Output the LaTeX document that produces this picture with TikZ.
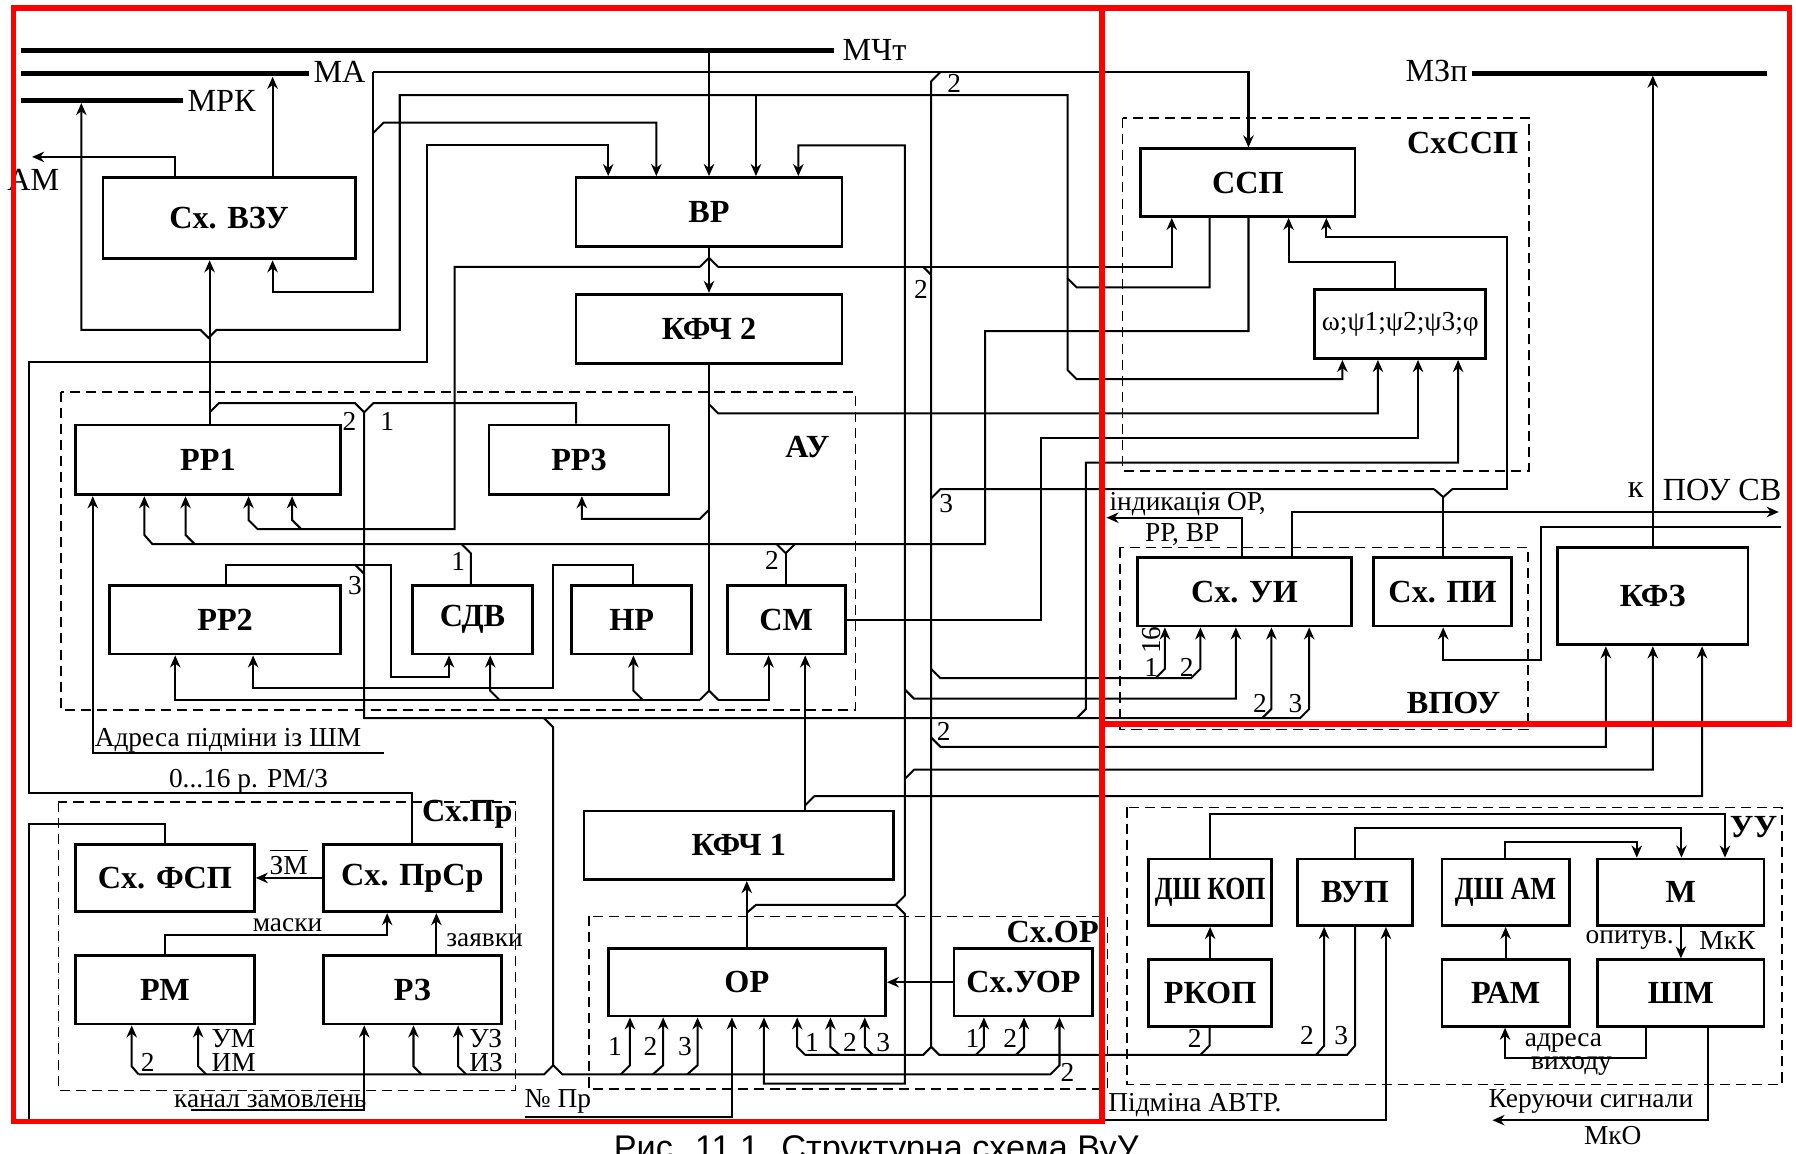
\documentclass[tikz,border=0pt]{standalone}
\usepackage{fontspec}
\setmainfont{Liberation Serif}
\newfontfamily\capfont{Liberation Sans}
\usetikzlibrary{arrows.meta}
\newcommand{\blkfont}{\fontsize{8}{9}\selectfont\bfseries}
\newcommand{\labfont}{\fontsize{6.8}{7.5}\selectfont}
\newcommand{\busfont}{\fontsize{8}{9}\selectfont}

\begin{document}
\begin{tikzpicture}[
        x=0.01cm, y=-0.01cm,
        blk/.style={draw, line width=0.7pt, font=\blkfont, inner sep=0pt},
        grp/.style={draw, line width=0.4pt, dash pattern=on 2.5pt off 1.5pt},
        grplab/.style={font=\blkfont, inner sep=0pt},
        bus/.style={line width=1.3pt},
        wire/.style={line width=0.5pt},
        arr/.style={wire, -{Stealth[length=3pt, width=2.6pt]}},
        lab/.style={font=\labfont, inner sep=0pt},
        buslab/.style={font=\busfont, inner sep=0pt},
        redbox/.style={draw=red, line width=1.3pt},
    ]
    \useasboundingbox[fill=white] (0,0) rectangle (1568,1007);

    \node[blk, minimum width=2.20cm, minimum height=0.71cm] (vzu) at (200,190.5) {Сх. ВЗУ};
    \node[blk, minimum width=2.32cm, minimum height=0.60cm] (vr) at (619,185) {ВР};
    \node[blk, minimum width=2.32cm, minimum height=0.60cm] (kfch2) at (619,287) {КФЧ 2};
    \node[blk, minimum width=1.87cm, minimum height=0.59cm] (ssp) at (1089.5,159.5) {ССП};
    \node[blk, font=\labfont, minimum width=1.49cm, minimum height=0.60cm] (omega) at (1222.5,283) {ω;ψ1;ψ2;ψ3;φ};
    \node[blk, minimum width=2.31cm, minimum height=0.61cm] (rr1) at (181.5,401.5) {РР1};
    \node[blk, minimum width=1.57cm, minimum height=0.61cm] (rr3) at (505.5,401.5) {РР3};
    \node[blk, minimum width=2.01cm, minimum height=0.60cm] (rr2) at (196.5,541) {РР2};
    \node[blk, minimum width=1.05cm, minimum height=0.60cm] (sdv) at (412.5,541) {СДВ};
    \node[blk, minimum width=1.05cm, minimum height=0.60cm] (nr) at (551.5,541) {НР};
    \node[blk, minimum width=1.03cm, minimum height=0.60cm] (sm) at (686.5,541) {СМ};
    \node[blk, minimum width=1.87cm, minimum height=0.60cm] (sui) at (1086.5,516.5) {Сх. УИ};
    \node[blk, minimum width=1.20cm, minimum height=0.60cm] (spi) at (1259.5,516.5) {Сх. ПИ};
    \node[blk, minimum width=1.66cm, minimum height=0.85cm] (kfz) at (1443,520.5) {КФЗ};
    \node[blk, minimum width=2.70cm, minimum height=0.60cm] (kfch1) at (645,738) {КФЧ 1};
    \node[blk, minimum width=2.42cm, minimum height=0.59cm] (or) at (652,857.5) {ОР};
    \node[blk, minimum width=1.21cm, minimum height=0.59cm] (uor) at (893.5,857.5) {Сх.УОР};
    \node[blk, minimum width=1.56cm, minimum height=0.59cm] (fsp) at (144,766.5) {Сх. ФСП};
    \node[blk, minimum width=1.55cm, minimum height=0.59cm] (prsr) at (360,766.5) {Сх. ПрСр};
    \node[blk, minimum width=1.56cm, minimum height=0.60cm] (rm) at (144,864) {РМ};
    \node[blk, minimum width=1.55cm, minimum height=0.60cm] (rz) at (360,864) {РЗ};
    \node[blk, minimum width=1.07cm, minimum height=0.58cm] (dshkop) at (1056.5,779) {\scalebox{0.8}[1]{ДШ КОП}};
    \node[blk, minimum width=1.00cm, minimum height=0.58cm] (vup) at (1183,779) {ВУП};
    \node[blk, minimum width=1.11cm, minimum height=0.58cm] (dsham) at (1314.5,779) {\scalebox{0.85}[1]{ДШ АМ}};
    \node[blk, minimum width=1.45cm, minimum height=0.58cm] (mm) at (1467.5,779) {М};
    \node[blk, minimum width=1.07cm, minimum height=0.58cm] (rkop) at (1056.5,867) {РКОП};
    \node[blk, minimum width=1.11cm, minimum height=0.58cm] (ram) at (1314.5,867) {РАМ};
    \node[blk, minimum width=1.45cm, minimum height=0.58cm] (shm) at (1467.5,867) {ШМ};

    \draw[grp] (53,342) rectangle (747,620);
    \draw[grp] (980,103) rectangle (1335,411);
    \draw[grp] (978,478) rectangle (1334,637);
    \draw[grp] (51,700) rectangle (450,952);
    \draw[grp] (514,800) rectangle (967,951);
    \draw[grp] (984,705) rectangle (1556,947);
    \node[grplab] (tau) at (705,390) {АУ};
    \node[grplab] (tcxssp) at (1277,125) {СхССП};
    \node[grplab] (tvpou) at (1269,614) {ВПОУ};
    \node[grplab] (tcxpr) at (408,711) {Сх.Пр};
    \node[grplab] (tcxor) at (919,814) {Сх.ОР};
    \node[grplab] (tuu) at (1531,722) {УУ};

    \draw[bus] (18,44) -- (728,44);
    \draw[bus] (18,64) -- (270,64);
    \draw[bus] (18,88) -- (160,88);
    \draw[bus] (1285,64) -- (1543,64);
    \node[buslab, anchor=west] (tmcht) at (735,44) {МЧт};
    \node[buslab, anchor=west] (tma) at (273,63) {МА};
    \node[buslab, anchor=west] (tmrk) at (163,88) {МРК};
    \node[buslab, anchor=east] (tmzp) at (1282,62) {МЗп};
    \node[buslab] (tam) at (29,157) {АМ};

    \draw[arr] (153,0 |- vzu.north) -- (153,137) -- (28,137);
    \draw[arr] (238,0 |- vzu.north) -- (238,67);
    \draw[arr] (619,46) -- (619,0 |- vr.north);

    \draw[arr] (1056,0 |- ssp.south) -- (1056,251) -- (940,251) -- (932,243) -- (932,83)
        -- (349,83) -- (349,288) -- (189,288) -- (182,295) -- (175,288) -- (71,288) -- (71,90);
    \draw[arr] (660,83) -- (660,0 |- vr.north);
    \draw[arr] (932,243) -- (932,323) -- (940,331) -- (1172,331) -- (1172,0 |- omega.south);

    \draw[arr] (326,63) -- (1090,63) -- (1090,0 |- ssp.north);
    \draw[arr] (326,63) -- (326,255) -- (238,255) -- (238,0 |- vzu.south);
    \draw[arr] (326,116) -- (335,107) -- (573,107) -- (573,0 |- vr.north);
    \draw[wire] (821,63) -- (813,71) -- (813,914);

    \draw[arr] (183,0 |- rr1.north) -- (183,0 |- vzu.south);
    \draw[wire] (183,360) -- (191,352) -- (310,352) -- (318,360) -- (326,352) -- (503,352) -- (503,0 |- rr3.north);
    \draw[arr] (318,360) -- (318,627) -- (1135,627) -- (1143,619) -- (1143,0 |- sui.south);
    \draw[arr] (1102,627) -- (1110,619) -- (1110,0 |- sui.south);
    \draw[arr] (940,627) -- (948,619) -- (948,404) -- (1273,404) -- (1273,0 |- omega.south);
    \draw[wire] (475,627) -- (483,635) -- (483,930);

    \draw[arr] (197,0 |- rr2.north) -- (197,493) -- (341,493) -- (341,591) -- (392,591) -- (392,0 |- sdv.south);
    \draw[wire] (310,493) -- (318,501);

    \draw[arr] (619,0 |- vr.south) -- (619,0 |- kfch2.north);
    \draw[wire] (611,233) -- (619,225) -- (627,233);
    \draw[arr] (611,233) -- (397,233) -- (397,462) -- (225,462) -- (217,454) -- (217,0 |- rr1.south);
    \draw[arr] (263,462) -- (255,454) -- (255,0 |- rr1.south);
    \draw[arr] (627,233) -- (1023,233) -- (1023,0 |- ssp.south);
    \draw[wire] (806,233) -- (813,240);

    \draw[arr] (360,0 |- prsr.north) -- (360,692) -- (25,692) -- (25,316) -- (373,316) -- (373,127) -- (531,127) -- (531,0 |- vr.north);

    \draw[arr] (652,0 |- or.north) -- (652,0 |- kfch1.south);
    \draw[arr] (652,797) -- (660,790) -- (782,790) -- (790,782) -- (790,127) -- (697,127) -- (697,0 |- vr.north);
    \draw[arr] (782,790) -- (790,798) -- (790,946) -- (667,946) -- (667,0 |- or.south);
    \draw[arr] (790,602) -- (798,610) -- (1079,610) -- (1079,0 |- sui.south);
    \draw[arr] (790,680) -- (798,672) -- (1443,672) -- (1443,0 |- kfz.south);

    \draw[arr] (703,0 |- kfch1.north) -- (703,0 |- sm.south);
    \draw[arr] (703,703) -- (711,695) -- (1486,695) -- (1486,0 |- kfz.south);

    \draw[wire] (619,0 |- kfch2.south) -- (619,603);
    \draw[arr] (619,353) -- (627,361) -- (1203,361) -- (1203,0 |- omega.south);
    \draw[arr] (619,445) -- (611,453) -- (508,453) -- (508,0 |- rr3.south);
    \draw[wire] (611,611) -- (619,603) -- (627,611);
    \draw[arr] (627,611) -- (671,611) -- (671,0 |- sm.south);
    \draw[arr] (611,611) -- (153,611) -- (153,0 |- rr2.south);
    \draw[arr] (436,611) -- (428,603) -- (428,0 |- sdv.south);
    \draw[arr] (561,611) -- (553,603) -- (553,0 |- nr.south);
    \draw[arr] (553,0 |- nr.north) -- (553,493) -- (483,493) -- (483,601) -- (221,601) -- (221,0 |- rr2.south);

    \draw[arr] (1090,0 |- ssp.south) -- (1090,289) -- (860,289) -- (860,475) -- (133,475) -- (126,467) -- (126,0 |- rr1.south);
    \draw[arr] (170,475) -- (162,467) -- (162,0 |- rr1.south);
    \draw[wire] (411,0 |- sdv.north) -- (411,483) -- (403,475);
    \draw[wire] (686,0 |- sm.north) -- (686,483);
    \draw[wire] (678,475) -- (686,483) -- (694,475);

    \draw[arr] (sm.east) -- (909,541) -- (909,382) -- (1238,382) -- (1238,0 |- omega.south);
    \draw[arr] (1218,0 |- omega.north) -- (1218,229) -- (1125,229) -- (1125,0 |- ssp.south);
    \draw[wire] (1260,0 |- spi.north) -- (1260,434);
    \draw[wire] (1252,427) -- (1260,434) -- (1268,427);
    \draw[arr] (1268,427) -- (1316,427) -- (1316,207) -- (1158,207) -- (1158,0 |- ssp.south);
    \draw[wire] (1252,427) -- (821,427) -- (813,435);

    \draw[arr] (813,584) -- (821,592) -- (1040,592) -- (1048,584) -- (1048,0 |- sui.south);
    \draw[arr] (1009,592) -- (1017,584) -- (1017,0 |- sui.south);
    \draw[arr] (813,644) -- (821,652) -- (1402,652) -- (1402,0 |- kfz.south);

    \draw[arr] (1084,0 |- sui.north) -- (1084,452) -- (966,452);
    \draw[arr] (1128,0 |- sui.north) -- (1128,447) -- (1553,447);
    \draw[arr] (1555,460) -- (1345,460) -- (1345,576) -- (1260,576) -- (1260,0 |- spi.south);
    \draw[arr] (1443,0 |- kfz.north) -- (1443,66);

    \draw[wire] (703,921) -- (806,921) -- (813,914) -- (820,921) -- (1176,921) -- (1183,913) -- (1183,0 |- vup.south);
    \draw[arr] (703,921) -- (696,914) -- (696,0 |- or.south);
    \draw[arr] (733,921) -- (725,914) -- (725,0 |- or.south);
    \draw[arr] (762,921) -- (755,914) -- (755,0 |- or.south);
    \draw[arr] (852,921) -- (859,914) -- (859,0 |- uor.south);
    \draw[arr] (887,921) -- (894,914) -- (894,0 |- uor.south);
    \draw[wire] (1048,921) -- (1056,913) -- (1056,0 |- rkop.south);
    \draw[arr] (1149,921) -- (1156,913) -- (1156,0 |- vup.south);

    \draw[arr] (121,938) -- (475,938) -- (483,930) -- (491,938) -- (917,938) -- (925,930) -- (925,0 |- uor.south);
    \draw[arr] (121,938) -- (115,931) -- (115,0 |- rm.south);
    \draw[arr] (180,938) -- (173,931) -- (173,0 |- rm.south);
    \draw[arr] (368,938) -- (361,931) -- (361,0 |- rz.south);
    \draw[arr] (407,938) -- (400,931) -- (400,0 |- rz.south);
    \draw[arr] (542,938) -- (550,930) -- (550,0 |- or.south);
    \draw[arr] (570,938) -- (579,930) -- (579,0 |- or.south);
    \draw[arr] (600,938) -- (609,930) -- (609,0 |- or.south);
    \draw[arr] (uor.west) -- (or.east);

    \draw[arr] (167,969) -- (318,969) -- (318,0 |- rz.south);
    \draw[arr] (458,975) -- (639,975) -- (639,0 |- or.south);
    \draw[arr] (335,657) -- (81,657) -- (81,0 |- rr1.south);

    \draw[arr] (prsr.west) -- (fsp.east);
    \draw[arr] (144,0 |- rm.north) -- (144,816) -- (338,816) -- (338,0 |- prsr.south);
    \draw[arr] (381,0 |- rz.north) -- (381,0 |- prsr.south);
    \draw[wire] (144,0 |- fsp.north) -- (144,719) -- (25,719) -- (25,978);

    \draw[arr] (1056,0 |- dshkop.north) -- (1056,711) -- (1506,711) -- (1506,0 |- mm.north);
    \draw[arr] (1183,0 |- vup.north) -- (1183,723) -- (1468,723) -- (1468,0 |- mm.north);
    \draw[arr] (1314,0 |- dsham.north) -- (1314,735) -- (1429,735) -- (1429,0 |- mm.north);
    \draw[arr] (rkop.north) -- (dshkop.south);
    \draw[arr] (ram.north) -- (dsham.south);
    \draw[arr] (mm.south) -- (shm.north);
    \draw[arr] (1437,0 |- shm.south) -- (1437,924) -- (1314,924) -- (1314,0 |- ram.south);
    \draw[arr] (1491,0 |- shm.south) -- (1491,978) -- (1303,978);
    \draw[arr] (962,978) -- (1210,978) -- (1210,0 |- vup.south);

    \node[lab] (n2a) at (833,73) {2};
    \node[lab] (n2b) at (804,253) {2};
    \node[lab] (n3a) at (826,440) {3};
    \node[lab] (n2c) at (824,639) {2};
    \node[lab] (n2d) at (305,368) {2};
    \node[lab] (n1a) at (338,368) {1};
    \node[lab] (n3b) at (310,511) {3};
    \node[lab] (n1b) at (400,490) {1};
    \node[lab] (n2e) at (674,489) {2};
    \node[lab] (n1c) at (1005,583) {1};
    \node[lab] (n2f) at (1036,583) {2};
    \node[lab, rotate=90] (n16) at (1005,559) {16};
    \node[lab] (n2g) at (1100,614) {2};
    \node[lab] (n3c) at (1131,614) {3};
    \node[lab] (n1d) at (537,914) {1};
    \node[lab] (n2h) at (568,914) {2};
    \node[lab] (n3d) at (598,914) {3};
    \node[lab] (n1e) at (709,910) {1};
    \node[lab] (n2i) at (742,910) {2};
    \node[lab] (n3e) at (771,910) {3};
    \node[lab] (n1f) at (849,907) {1};
    \node[lab] (n2j) at (882,907) {2};
    \node[lab] (n2k) at (932,936) {2};
    \node[lab] (n2l) at (129,928) {2};
    \node[lab] (n2m) at (1043,907) {2};
    \node[lab] (n2n) at (1141,904) {2};
    \node[lab] (n3f) at (1171,904) {3};

    \node[lab, anchor=west] (tind) at (968,440) {індикація ОР,};
    \node[lab, anchor=west] (trr) at (999,467) {РР, ВР};
    \node[buslab] (tk) at (1428,428) {к};
    \node[buslab, anchor=west] (tpou) at (1451,428) {ПОУ СВ};
    \node[lab] (tadr) at (199,646) {Адреса підміни із ШМ};
    \node[lab] (trmz) at (217,682) {0...16 р. РМ/З};
    \node[lab] (tzm) at (252,752) {$\overline{\mbox{ЗМ}}$};
    \node[lab] (tmask) at (251,808) {маски};
    \node[lab, anchor=west] (tzay) at (389,821) {заявки};
    \node[lab, anchor=west] (tum) at (184,907) {УМ};
    \node[lab, anchor=west] (tim) at (184,928) {ИМ};
    \node[lab, anchor=west] (tuz) at (409,907) {УЗ};
    \node[lab, anchor=west] (tiz) at (409,928) {ИЗ};
    \node[lab, anchor=south] (tkan) at (236,968) {канал замовлень};
    \node[lab, anchor=south] (tnpr) at (487,973) {№ Пр};
    \node[lab, anchor=west] (tpidm) at (967,965) {Підміна АВТР.};
    \node[lab] (tker) at (1389,962) {Керуючи сигнали};
    \node[lab] (tmko) at (1408,991) {МкО};
    \node[lab] (tadr2) at (1365,911) {адреса};
    \node[lab] (tvyh) at (1372,931) {виходу};
    \node[lab, anchor=east] (topyt) at (1462,821) {опитув.};
    \node[lab, anchor=west] (tmkk) at (1483,821) {МкК};

    \node[font=\capfont\fontsize{8.5}{10}\selectfont, anchor=north, inner sep=0pt] (tcap) at (765,991) {Рис. 11.1. Структурна схема ВуУ};

    \draw[redbox] (12,7) rectangle (962,979);
    \draw[redbox] (962,7) rectangle (1562,632);
\end{tikzpicture}
\end{document}
